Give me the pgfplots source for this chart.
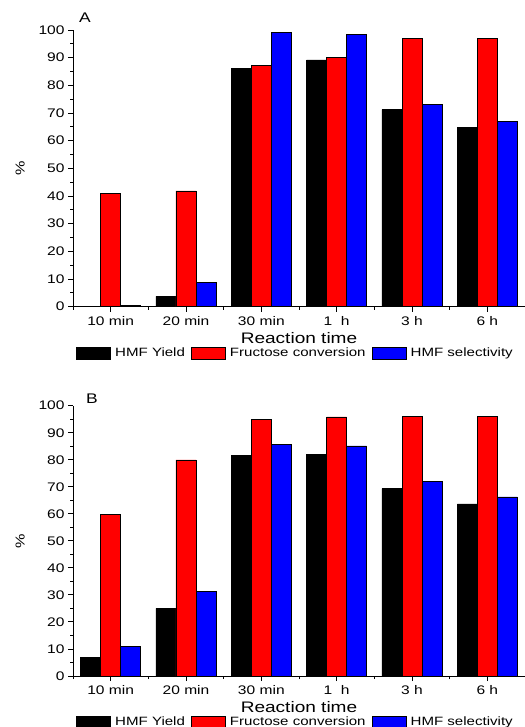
\documentclass[border=0pt]{standalone}
\usepackage{fontspec}
\setmainfont{Liberation Sans}[FakeStretch=1.25]
\usepackage{pgfplots}
\pgfplotsset{compat=1.18}
\pgfplotsset{
  panel/.style={
    scale only axis, width=452bp,
    ybar=0pt, bar width=20bp,
    xmin=-0.5, xmax=5.5, ymin=0, ymax=100,
    axis x line*=bottom, axis y line*=left,
    axis line style={line width=0.9bp, black},
    xtick={0,...,5}, xticklabels={10 min,20 min,30 min,1\ \ h,3 h,6 h},
    minor xtick={-0.5,0.5,...,5.5},
    ytick={0,10,...,100}, minor ytick={5,15,...,95},
    tick align=outside, major tick length=5bp, minor tick length=3bp,
    every tick/.style={line width=0.9bp, black},
    /pgf/number format/assume math mode=true,
    ticklabel style={font=\fontsize{12.5}{13}\selectfont},
    xticklabel style={yshift=-1bp},
    xlabel={Reaction time}, ylabel={\%},
    xlabel style={at={(axis description cs:0.5,0)}, anchor=center, yshift=-31bp, font=\fontsize{15.3}{16}\selectfont},
    ylabel style={at={(axis description cs:-0.117,0.5)}, anchor=center, font=\fontsize{13}{14}\selectfont},
    legend columns=3,
    legend style={draw=none, fill=none, at={(axis description cs:0,0)}, anchor=north west,
      xshift=3bp, yshift=-39bp, inner sep=0pt, font=\fontsize{12.1}{13}\selectfont,
      nodes={inner xsep=4.5bp},
      /tikz/every even column/.append style={column sep=1.5bp}},
    clip=false,
  },
  mybar/.style={fill=#1, draw=black, line width=0.5bp,
    legend image code/.code={\draw[fill=#1,draw=black,line width=0.5bp] (0bp,-6bp) rectangle (34bp,6bp);}},
}
\begin{document}
\begin{tikzpicture}
\useasboundingbox (0,0) rectangle (525bp,-727bp);
% Panel A
\begin{axis}[panel, height=276.7bp, at={(73bp,-306.7bp)}, anchor=south west]
\addplot[mybar=black] coordinates {(0,0) (1,3.7) (2,86) (3,89.2) (4,71.2) (5,64.9)};
\addplot[mybar=red] coordinates {(0,41) (1,41.9) (2,87.1) (3,90) (4,97) (5,97)};
\addplot[mybar=blue] coordinates {(0,0.5) (1,8.8) (2,99.2) (3,98.3) (4,73) (5,67)};
\legend{HMF Yield,Fructose conversion,HMF selectivity}
\end{axis}
% Panel B
\begin{axis}[panel, height=270.3bp, at={(73bp,-676bp)}, anchor=south west]
\addplot[mybar=black] coordinates {(0,6.8) (1,25) (2,81.5) (3,81.9) (4,69.3) (5,63.7)};
\addplot[mybar=red] coordinates {(0,59.8) (1,80) (2,94.9) (3,95.9) (4,96) (5,96)};
\addplot[mybar=blue] coordinates {(0,11) (1,31.2) (2,85.7) (3,85.1) (4,72.1) (5,66.3)};
\legend{HMF Yield,Fructose conversion,HMF selectivity}
\end{axis}
\node[font=\fontsize{14}{15}\selectfont] at (85bp,-17.5bp) {A};
\node[font=\fontsize{14}{15}\selectfont] at (92bp,-399bp) {B};
\end{tikzpicture}
\end{document}
